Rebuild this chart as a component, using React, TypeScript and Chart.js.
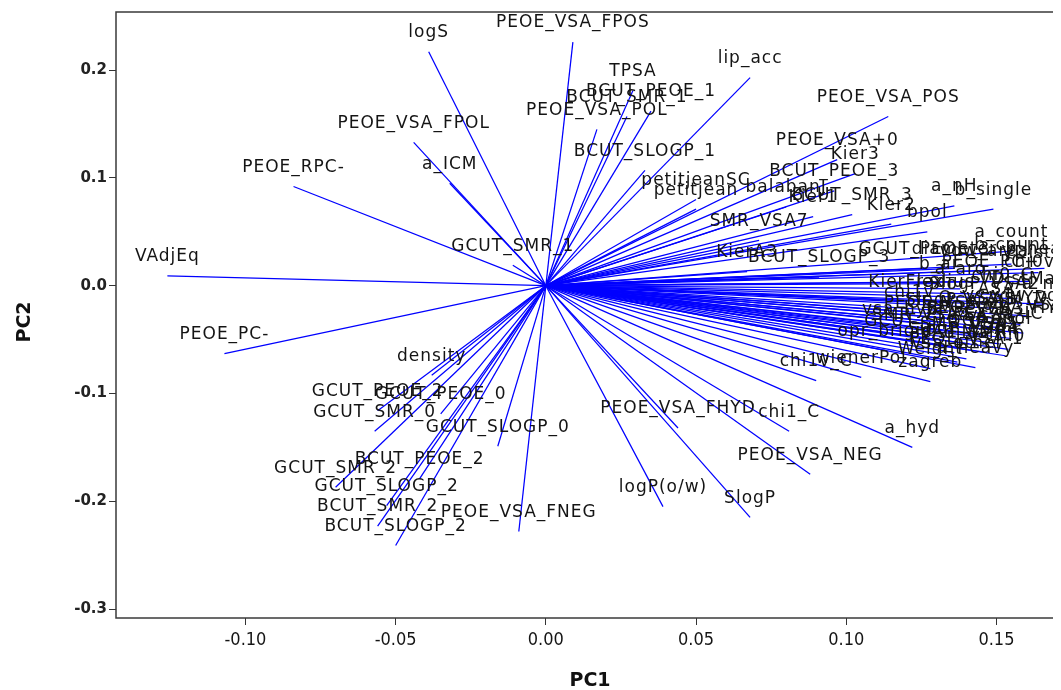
import React, { useEffect, useRef } from 'react';
import { Chart, registerables } from 'chart.js';

Chart.register(...registerables);

const names: string[] = [
  'logS', 'PEOE_VSA_FPOS', 'PEOE_VSA_FPOL', 'a_ICM', 'PEOE_RPC-', 'VAdjEq', 'GCUT_SMR_1', 'TPSA',
  'BCUT_PEOE_1', 'BCUT_SMR_1', 'PEOE_VSA_POL', 'lip_acc', 'BCUT_SLOGP_1', 'PEOE_VSA_POS', 'petitjeanSC', 'petitjean',
  'PEOE_VSA+0', 'Kier3', 'BCUT_PEOE_3', 'balabanJ', 'Kier1', 'BCUT_SMR_3', 'Kier2', 'bpol',
  'a_nH', 'b_single', 'SMR_VSA7', 'a_count', 'KierA3', 'BCUT_SLOGP_3', 'GCUT_PEOE_3', 'diameter',
  'b_count', 'vdw_area', 'VDistEq', 'PEOE_PC+', 'chi0_C', 'KierFlex', 'radius', 'SlogP_VSA2',
  'chi1v', 'vdw_vol', 'vsa_hyd', 'PEOE_VSA_HYD', 'GCUT_SLOGP_3', 'apol', 'VAdjMa', 'SMR',
  'Weight', 'a_heavy', 'wienerPol', 'zagreb', 'chi1v_C', 'PEOE_VSA_FHYD', 'chi1_C', 'a_hyd',
  'PEOE_VSA_NEG', 'SlogP', 'logP(o/w)', 'PEOE_VSA_FNEG', 'GCUT_SLOGP_0', 'PEOE_PC-', 'density', 'GCUT_PEOE_2',
  'GCUT_PEOE_0', 'GCUT_SMR_0', 'BCUT_PEOE_2', 'GCUT_SMR_2', 'GCUT_SLOGP_2', 'BCUT_SMR_2', 'BCUT_SLOGP_2', 'chi0v',
  'a_nC', 'SlogP_VSA5', 'VSA', 'SMR_VSA5', 'chi1', 'mr', 'b_heavy', 'a_aro',
  'b_ar', 'SMR_VSA3', 'SlogP_VSA1', 'ASA', 'ASA_H', 'VDistMa', 'PEOE_VSA-1', 'PEOE_VSA+1',
  'Q_VSA_HYD', 'SlogP_VSA4', 'SMR_VSA4', 'a_IC', 'vsa_other', 'opr_brigid', 'chi0',
];

const pc1: number[] = [
  -0.039, 0.009, -0.044, -0.032, -0.084, -0.126, -0.011, 0.029,
  0.035, 0.027, 0.017, 0.068, 0.033, 0.114, 0.050, 0.050,
  0.097, 0.103, 0.096, 0.080, 0.089, 0.102, 0.115, 0.127,
  0.136, 0.149, 0.071, 0.155, 0.067, 0.091, 0.126, 0.136,
  0.155, 0.146, 0.164, 0.148, 0.152, 0.120, 0.133, 0.146,
  0.121, 0.160, 0.118, 0.151, 0.130, 0.155, 0.136, 0.147,
  0.128, 0.143, 0.105, 0.128, 0.090, 0.044, 0.081, 0.122,
  0.088, 0.068, 0.039, -0.009, -0.016, -0.107, -0.038, -0.056,
  -0.035, -0.057, -0.042, -0.070, -0.053, -0.056, -0.050, 0.161,
  0.166, 0.138, 0.146, 0.141, 0.151, 0.154, 0.166, 0.138,
  0.131, 0.143, 0.158, 0.150, 0.145, 0.157, 0.140, 0.133,
  0.149, 0.139, 0.125, 0.159, 0.137, 0.113, 0.153,
];

const pc2: number[] = [
  0.217, 0.226, 0.133, 0.095, 0.092, 0.009, 0.019, 0.181,
  0.162, 0.157, 0.145, 0.193, 0.107, 0.157, 0.080, 0.071,
  0.117, 0.104, 0.088, 0.073, 0.064, 0.066, 0.057, 0.050,
  0.074, 0.071, 0.042, 0.032, 0.013, 0.008, 0.016, 0.016,
  0.020, 0.014, 0.012, 0.004, -0.008, -0.015, -0.015, -0.017,
  -0.024, -0.028, -0.040, -0.039, -0.051, -0.049, -0.062, -0.062,
  -0.077, -0.076, -0.085, -0.089, -0.088, -0.132, -0.135, -0.150,
  -0.175, -0.215, -0.205, -0.228, -0.149, -0.063, -0.083, -0.116,
  -0.119, -0.135, -0.179, -0.187, -0.204, -0.223, -0.241, 0.004,
  -0.017, -0.031, -0.048, -0.054, -0.054, -0.059, 0.016, -0.003,
  0.002, -0.040, -0.036, -0.021, -0.045, -0.012, -0.068, -0.034,
  -0.030, -0.058, -0.045, -0.044, -0.071, -0.060, -0.065,
];

const xTicks: number[] = [-0.1, -0.05, 0, 0.05, 0.1, 0.15];
const yTicks: number[] = [0.2, 0.1, 0, -0.1, -0.2, -0.3];
const xTitle = 'PC1';
const yTitle = 'PC2';

const X_MIN = -0.1431;
const X_MAX = 0.1725;
const Y_MIN = -0.3083;
const Y_MAX = 0.2539;

const CW = 1070;
const CH = 682;

const labelPlugin = {
  id: 'vectorLabels',
  afterDatasetsDraw(chart: any) {
    const { ctx, scales } = chart;
    ctx.save();
    ctx.font = '17px "DejaVu Sans", sans-serif';
    try { (ctx as any).letterSpacing = '1px'; } catch (e) { /* ignore */ }
    ctx.fillStyle = '#141414';
    ctx.textAlign = 'center';
    ctx.textBaseline = 'middle';
    names.forEach((n, i) => {
      const px = scales.x.getPixelForValue(pc1[i]);
      const py = scales.y.getPixelForValue(pc2[i]);
      ctx.fillText(n, px, py - 19);
    });
    ctx.restore();
  },
  afterDraw(chart: any) {
    const { ctx, chartArea } = chart;
    ctx.save();
    ctx.strokeStyle = '#3a3a3a';
    ctx.lineWidth = 1.5;
    ctx.strokeRect(chartArea.left, chartArea.top, chartArea.right - chartArea.left, chartArea.bottom - chartArea.top);
    ctx.fillStyle = '#111';
    ctx.font = 'bold 19px "DejaVu Sans", sans-serif';
    ctx.textAlign = 'center';
    ctx.textBaseline = 'middle';
    ctx.fillText(xTitle, 582, 673);
    ctx.translate(17, 314);
    ctx.rotate(-Math.PI / 2);
    ctx.fillText(yTitle, 0, 0);
    ctx.restore();
  },
};

export default function App() {
  const ref = useRef<HTMLCanvasElement | null>(null);
  useEffect(() => {
    if (!ref.current) return;
    const datasets = names.map((n, i) => ({
      label: n,
      data: [{ x: 0, y: 0 }, { x: pc1[i], y: pc2[i] }],
      showLine: true,
      borderColor: '#0000ff',
      backgroundColor: '#0000ff',
      borderWidth: 1.25,
      pointRadius: 0,
      pointHoverRadius: 0,
    }));
    const chart = new Chart(ref.current, {
      type: 'scatter',
      data: { datasets },
      options: {
        responsive: false,
        animation: false,
        events: [],
        layout: { padding: { top: 4, right: 14, left: 0, bottom: 0 } },
        plugins: { legend: { display: false }, tooltip: { enabled: false } },
        scales: {
          x: {
            type: 'linear',
            min: X_MIN,
            max: X_MAX,
            afterBuildTicks: (s: any) => { s.ticks = xTicks.map((v) => ({ value: v })); },
            afterFit: (s: any) => { s.height = 72; s.paddingLeft = 0; s.paddingRight = 0; s.paddingTop = 0; s.paddingBottom = 0; },
            grid: { drawOnChartArea: false, drawTicks: true, tickLength: 7, color: '#333', lineWidth: 1 },
            border: { display: false },
            ticks: {
              autoSkip: false,
              maxRotation: 0,
              padding: 5,
              color: '#151515',
              font: { family: '"DejaVu Sans Condensed", "DejaVu Sans", sans-serif', size: 18 },
              callback: (v: any) => Number(v).toFixed(2),
            },
          },
          y: {
            type: 'linear',
            min: Y_MIN,
            max: Y_MAX,
            afterBuildTicks: (s: any) => { s.ticks = yTicks.map((v) => ({ value: v })); },
            afterFit: (s: any) => { s.width = 108; s.paddingLeft = 0; s.paddingRight = 0; s.paddingTop = 0; s.paddingBottom = 0; },
            grid: { drawOnChartArea: false, drawTicks: true, tickLength: 7, color: '#333', lineWidth: 1 },
            border: { display: false },
            ticks: {
              autoSkip: false,
              padding: 2,
              color: '#222',
              font: { family: '"DejaVu Sans", sans-serif', size: 15, weight: 'bold' },
              callback: (v: any) => Number(v).toFixed(1),
            },
          },
        },
      },
      plugins: [labelPlugin],
    } as any);
    return () => chart.destroy();
  }, []);
  return (
    <div style={{ width: 1053, height: 682, overflow: 'hidden', position: 'relative' }}>
      <canvas ref={ref} width={CW} height={CH} style={{ width: CW, height: CH, display: 'block' }} />
    </div>
  );
}
